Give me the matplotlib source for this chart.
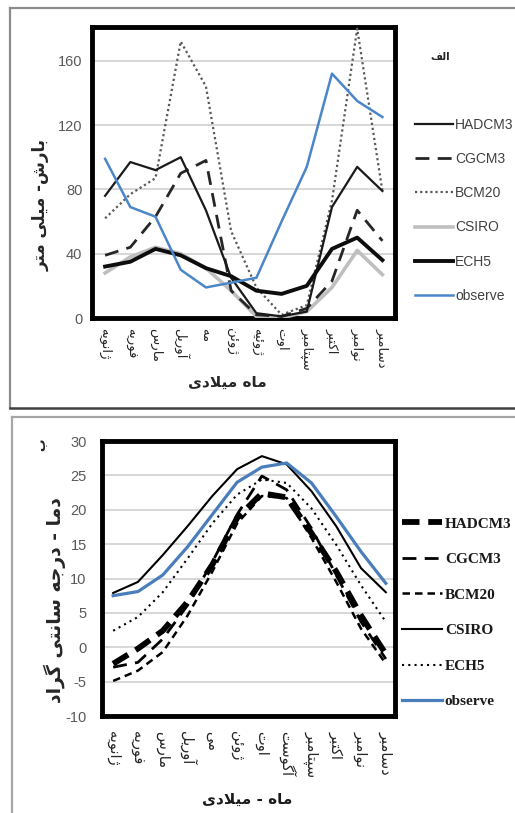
import matplotlib
matplotlib.use("Agg")
import matplotlib.pyplot as plt
from matplotlib.lines import Line2D

plt.rcParams['axes.unicode_minus'] = False

# ---------------- data ----------------
months_top = ["ژانویه", "فوریه", "مارس", "آوریل", "مه", "ژوئن", "ژوئیه", "اوت",
              "سپتامبر", "اکتبر", "نوامبر", "دسامبر"]
months_bot = ["ژانویه", "فوریه", "مارس", "آوریل", "می", "ژوئن", "اوت", "آگوست",
              "سپتامبر", "اکتبر", "نوامبر", "دسامبر"]

# precipitation (mm)
p_hadcm3 = [76, 97, 92, 100, 67, 25, 3, 1, 4, 69, 94, 79]
p_cgcm3 = [39, 44, 63, 90, 98, 17, 2, 1, 6, 23, 67, 48]
p_bcm20 = [62, 77, 87, 172, 144, 54, 19, 2, 8, 73, 180, 79]
p_csiro = [28, 38, 44, 40, 31, 17, 1, 0, 4, 19, 42, 27]
p_ech5 = [32, 35, 43, 39, 31, 26, 17, 15, 20, 43, 50, 36]
p_obs = [99, 69, 63, 30, 19, 22, 25, 60, 94, 152, 135, 125]

# temperature (deg C)
t_hadcm3 = [-2.4, -0.2, 2.4, 6.6, 12.0, 18.8, 22.4, 21.8, 16.6, 11.0, 4.6, -1.0]
t_cgcm3 = [-2.9, -2.2, 1.2, 6.1, 12.4, 19.3, 24.9, 22.9, 17.3, 10.5, 3.7, -1.7]
t_bcm20 = [-4.9, -3.4, -0.7, 4.6, 11.0, 18.0, 22.0, 21.7, 15.9, 9.5, 2.7, -2.4]
t_csiro = [7.9, 9.5, 13.4, 17.6, 22.0, 25.9, 27.8, 26.6, 22.7, 17.6, 11.5, 8.0]
t_ech5 = [2.4, 4.4, 8.0, 12.9, 18.0, 22.2, 24.4, 23.9, 20.2, 14.9, 9.0, 3.7]
t_obs = [7.5, 8.1, 10.5, 14.6, 19.3, 24.0, 26.2, 26.8, 23.9, 19.0, 13.9, 9.3]

# ---------------- minimal Arabic/Persian shaping ----------------
FORMS = {  # iso, fin, ini, med (None -> right-joining only)
    'ا': (0xFE8D, 0xFE8E, None, None), 'آ': (0xFE81, 0xFE82, None, None),
    'ب': (0xFE8F, 0xFE90, 0xFE91, 0xFE92), 'پ': (0xFB56, 0xFB57, 0xFB58, 0xFB59),
    'ت': (0xFE95, 0xFE96, 0xFE97, 0xFE98), 'ث': (0xFE99, 0xFE9A, 0xFE9B, 0xFE9C),
    'ج': (0xFE9D, 0xFE9E, 0xFE9F, 0xFEA0), 'چ': (0xFB7A, 0xFB7B, 0xFB7C, 0xFB7D),
    'ح': (0xFEA1, 0xFEA2, 0xFEA3, 0xFEA4), 'خ': (0xFEA5, 0xFEA6, 0xFEA7, 0xFEA8),
    'د': (0xFEA9, 0xFEAA, None, None), 'ذ': (0xFEAB, 0xFEAC, None, None),
    'ر': (0xFEAD, 0xFEAE, None, None), 'ز': (0xFEAF, 0xFEB0, None, None),
    'ژ': (0xFB8A, 0xFB8B, None, None),
    'س': (0xFEB1, 0xFEB2, 0xFEB3, 0xFEB4), 'ش': (0xFEB5, 0xFEB6, 0xFEB7, 0xFEB8),
    'ص': (0xFEB9, 0xFEBA, 0xFEBB, 0xFEBC), 'ض': (0xFEBD, 0xFEBE, 0xFEBF, 0xFEC0),
    'ط': (0xFEC1, 0xFEC2, 0xFEC3, 0xFEC4), 'ظ': (0xFEC5, 0xFEC6, 0xFEC7, 0xFEC8),
    'ع': (0xFEC9, 0xFECA, 0xFECB, 0xFECC), 'غ': (0xFECD, 0xFECE, 0xFECF, 0xFED0),
    'ف': (0xFED1, 0xFED2, 0xFED3, 0xFED4), 'ق': (0xFED5, 0xFED6, 0xFED7, 0xFED8),
    'ک': (0xFB8E, 0xFB8F, 0xFB90, 0xFB91), 'گ': (0xFB92, 0xFB93, 0xFB94, 0xFB95),
    'ل': (0xFEDD, 0xFEDE, 0xFEDF, 0xFEE0), 'م': (0xFEE1, 0xFEE2, 0xFEE3, 0xFEE4),
    'ن': (0xFEE5, 0xFEE6, 0xFEE7, 0xFEE8), 'و': (0xFEED, 0xFEEE, None, None),
    'ه': (0xFEE9, 0xFEEA, 0xFEEB, 0xFEEC), 'ی': (0xFBFC, 0xFBFD, 0xFBFE, 0xFBFF),
    'ئ': (0xFE89, 0xFE8A, 0xFE8B, 0xFE8C),
}


def _dual(c):
    return c in FORMS and FORMS[c][2] is not None


def shape(s):
    chars = list(s)
    out = []
    i = 0
    n = len(chars)
    while i < n:
        c = chars[i]
        prev = chars[i - 1] if i > 0 else None
        jp = prev is not None and _dual(prev) and c in FORMS
        if c == 'ل' and i + 1 < n and chars[i + 1] in ('ا', 'آ'):
            if chars[i + 1] == 'ا':
                out.append(chr(0xFEFC if jp else 0xFEFB))
            else:
                out.append(chr(0xFEF6 if jp else 0xFEF5))
            i += 2
            continue
        if c not in FORMS:
            out.append(c)
            i += 1
            continue
        nxt = chars[i + 1] if i + 1 < n else None
        jn = _dual(c) and nxt is not None and nxt in FORMS
        iso, fin, ini, med = FORMS[c]
        if jp and jn:
            g = med
        elif jp:
            g = fin
        elif jn:
            g = ini
        else:
            g = iso
        out.append(chr(g))
        i += 1
    return ''.join(reversed(out))


# ---------------- figure ----------------
W, H = 515, 813
fig = plt.figure(figsize=(W / 100, H / 100), dpi=100)
fig.patch.set_facecolor('white')

FA = ['DejaVu Sans']
NUM = ['Liberation Sans Narrow', 'Liberation Sans', 'DejaVu Sans']


def fx(px):
    return px / W


def fy(py):
    return 1 - py / H


# panel borders
for (x0, y0, x1, y1, c, lw) in [
    (10, 8, 515, 8, '#8c8c8c', 1.6), (10, 8, 10, 408, '#8c8c8c', 1.6),
    (10, 408, 515, 408, '#404040', 1.8),
    (12, 417, 515, 417, '#a6a6a6', 1.6), (12, 417, 12, 813, '#a6a6a6', 1.6),
]:
    fig.add_artist(Line2D([fx(x0), fx(x1)], [fy(y0), fy(y1)], color=c, lw=lw,
                          transform=fig.transFigure))

x = list(range(12))

# ---------------- top chart: precipitation ----------------
ax1 = fig.add_axes([fx(92), fy(318), fx(395) - fx(92), fy(27) - fy(318)])
ax1.plot(x, p_csiro, color='#bfbfbf', lw=2.6, label='CSIRO', zorder=3)
ax1.plot(x, p_bcm20, color='#595959', lw=1.6, ls=(0, (1, 1.3)), label='BCM20', zorder=3)
ax1.plot(x, p_cgcm3, color='#262626', lw=2.0, ls=(0, (5, 3)), label='CGCM3', zorder=4)
ax1.plot(x, p_hadcm3, color='#1a1a1a', lw=1.6, label='HADCM3', zorder=4)
ax1.plot(x, p_ech5, color='#0d0d0d', lw=2.8, label='ECH5', zorder=4)
ax1.plot(x, p_obs, color='#4a86c8', lw=1.8, label='observe', zorder=5)
ax1.set_xlim(-0.52, 11.5)
ax1.set_ylim(0, 181)
ax1.set_yticks([0, 40, 80, 120, 160])
ax1.grid(axis='y', color='#d4d4d4', lw=1.3)
ax1.set_axisbelow(True)
for s in ax1.spines.values():
    s.set_linewidth(3.5)
    s.set_color('black')
ax1.tick_params(axis='both', length=0)
ax1.tick_params(axis='y', pad=7, labelsize=10.5, labelcolor='#595959')
for t in ax1.get_yticklabels():
    t.set_family(NUM)
ax1.set_xticks(x)
ax1.set_xticklabels([shape(m) for m in months_top], rotation=270, family=FA,
                    fontsize=9.5, color='#262626', va='top', ha='center')
ax1.tick_params(axis='x', pad=7)
ax1.set_ylabel(shape('بارش- میلی متر'), family=FA, fontweight='bold', fontsize=12,
               color='#262626')
ax1.yaxis.set_label_coords(fx(50 - 92) / (fx(395) - fx(92)), 0.39)
fig.text(fx(227), fy(382), shape('ماه میلادی'), family=FA, fontweight='bold',
         fontsize=11, color='#262626', ha='center', va='center')
fig.text(fx(440), fy(57), shape('الف'), family=FA, fontweight='bold', fontsize=7.5,
         color='#262626', ha='center', va='center')

h, l = ax1.get_legend_handles_labels()
order = ['HADCM3', 'CGCM3', 'BCM20', 'CSIRO', 'ECH5', 'observe']
hd = dict(zip(l, h))
leg1 = fig.legend([hd[k] for k in order], order, loc='upper left',
                  bbox_to_anchor=(fx(415), fy(118)), frameon=False, borderpad=0,
                  borderaxespad=0, handlelength=2.7, handletextpad=0.2,
                  labelspacing=1.45, prop={'family': NUM, 'size': 10})
for t in leg1.get_texts():
    t.set_color('#404040')

# ---------------- bottom chart: temperature ----------------
ax2 = fig.add_axes([fx(102), fy(716), fx(395) - fx(102), fy(441) - fy(716)])
ax2.plot(x, t_bcm20, color='black', lw=1.8, ls=(0, (3, 2)), label='BCM20', zorder=3)
ax2.plot(x, t_cgcm3, color='black', lw=2.0, ls=(0, (5, 3)), label='CGCM3', zorder=3)
ax2.plot(x, t_hadcm3, color='black', lw=4.2, ls=(0, (3, 1.5)), label='HADCM3', zorder=4)
ax2.plot(x, t_ech5, color='black', lw=1.5, ls=(0, (1, 2)), label='ECH5', zorder=3)
ax2.plot(x, t_csiro, color='black', lw=1.5, label='CSIRO', zorder=3)
ax2.plot(x, t_obs, color='#4a7ebb', lw=2.3, label='observe', zorder=5)
ax2.set_xlim(-0.45, 11.37)
ax2.set_ylim(-10, 30)
ax2.set_yticks(list(range(-10, 31, 5)))
ax2.grid(axis='y', color='#d4d4d4', lw=1.3)
ax2.set_axisbelow(True)
for s in ax2.spines.values():
    s.set_linewidth(3.5)
    s.set_color('black')
ax2.tick_params(axis='both', length=0)
ax2.tick_params(axis='y', pad=11, labelsize=10.5, labelcolor='#595959')
for t in ax2.get_yticklabels():
    t.set_family(NUM)
ax2.set_xticks(x)
ax2.set_xticklabels([shape(m) for m in months_bot], rotation=270, family=FA,
                    fontsize=10.5, color='#262626', va='top', ha='center')
ax2.tick_params(axis='x', pad=11)
ax2.set_ylabel(shape('دما - درجه سانتی گراد'), family=FA, fontweight='bold',
               fontsize=13.5, color='#262626')
ax2.yaxis.set_label_coords(fx(66 - 102) / (fx(395) - fx(102)), 0.42)
fig.text(fx(247), fy(799), shape('ماه - میلادی'), family=FA, fontweight='bold',
         fontsize=11, color='#1a1a1a', ha='center', va='center')
fig.text(fx(42), fy(445), shape('ب'), family=FA, fontweight='bold', fontsize=9,
         color='#262626', ha='center', va='center', rotation=90)

h, l = ax2.get_legend_handles_labels()
hd = dict(zip(l, h))
leg2 = fig.legend([hd[k] for k in order], order, loc='upper left',
                  bbox_to_anchor=(fx(402), fy(517)), frameon=False, borderpad=0,
                  borderaxespad=0, handlelength=2.6, handletextpad=0.2,
                  labelspacing=1.43, prop={'family': ['Liberation Serif'],
                                          'weight': 'bold', 'size': 11})
for t in leg2.get_texts():
    t.set_color('#1a1a1a')

fig.savefig('out.png', dpi=100, facecolor='white')
